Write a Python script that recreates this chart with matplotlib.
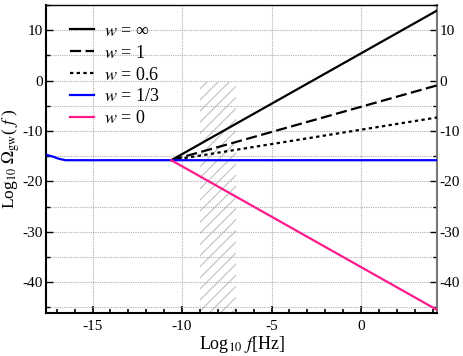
import numpy as np
import matplotlib.pyplot as plt
from matplotlib.ticker import MultipleLocator
import matplotlib.patches as mpatches

plt.rcParams['font.family'] = ['Liberation Serif', 'DejaVu Serif']
plt.rcParams['mathtext.fontset'] = 'stix'
plt.rcParams['axes.unicode_minus'] = False
plt.rcParams['hatch.linewidth'] = 0.8

# Data: log10 f start point and end, spectral slopes for each w
f_start = -10.6
omega_start = -15.8
f_end = 4.25
w_labels = [r"$w$ = ∞", r"$w$ = 1", r"$w$ = 0.6", r"$w$ = 1/3", r"$w$ = 0"]
slopes = [2.0, 1.0, 0.571, 0.0, -2.0]
colors = ["black", "black", "black", "#0000ff", "#ff1a8c"]
styles = ["-", (0, (5, 2)), (0, (1.5, 1.5)), "-", "-"]

# low-frequency part of the w=1/3 curve
blue_low_x = [-17.6, -17.2, -16.9, -16.5]
blue_low_y = [-14.7, -15.1, -15.5, -15.8]

# hatched band
band_x = [-9.0, -7.0]
band_top = -0.3

fig = plt.figure(figsize=(4.63, 3.56), dpi=100)
ax = fig.add_axes([0.0994, 0.121, 0.8446, 0.865])

ax.add_patch(mpatches.Rectangle((band_x[0], -46.1), band_x[1] - band_x[0], band_top + 46.1,
                                fill=False, hatch='///', edgecolor='#c0c0c0', linewidth=0))

handles = []
for lab, s, c, ls in zip(w_labels, slopes, colors, styles):
    xs = np.array([f_start, f_end])
    ys = omega_start + s * (xs - f_start)
    if s == 0.0:
        xs = np.concatenate([blue_low_x, xs])
        ys = np.concatenate([blue_low_y, ys])
    h, = ax.plot(xs, ys, color=c, linestyle=ls, linewidth=1.6, label=lab, zorder=3)
    handles.append(h)

ax.set_xlim(-17.6, 4.25)
ax.set_ylim(-46.1, 15.0)
ax.xaxis.set_major_locator(MultipleLocator(5))
ax.xaxis.set_minor_locator(MultipleLocator(1))
ax.yaxis.set_major_locator(MultipleLocator(10))
ax.yaxis.set_minor_locator(MultipleLocator(5))

ax.grid(True, which='major', axis='x', color='#b0b0b0', linestyle=(0, (1, 1)), linewidth=0.8)
ax.grid(True, which='both', axis='y', color='#b0b0b0', linestyle=(0, (1, 1)), linewidth=0.8)

ax.tick_params(axis='both', which='both', direction='in', labelsize=11)
ax.tick_params(axis='y', which='both', right=True, labelright=True, pad=2)
ax.tick_params(axis='x', which='major', length=5, width=1.2, pad=5)
ax.tick_params(axis='x', which='minor', length=3, width=1.2)
ax.tick_params(axis='y', which='major', length=5, width=1.0)
ax.tick_params(axis='y', which='minor', length=3, width=1.0)

ax.spines['left'].set_linewidth(1.5)
ax.spines['bottom'].set_linewidth(1.5)
ax.spines['right'].set_color('#777777')
ax.spines['right'].set_linewidth(1.5)
ax.spines['top'].set_linewidth(1.0)

ax.set_xlabel(r"Log$_{10}$ $f$[Hz]", fontsize=13, labelpad=1)
ax.set_ylabel(r"Log$_{10}$ $\Omega_{\rm gw}$( $f$ )", fontsize=12.5)
ax.yaxis.set_label_coords(-0.061, 0.5)

ax.legend(handles=handles, loc='upper left', frameon=False, fontsize=13,
          handlelength=1.3, handletextpad=0.6, labelspacing=0.27,
          bbox_to_anchor=(0.02, 0.995))

plt.savefig("out.png", dpi=100)
